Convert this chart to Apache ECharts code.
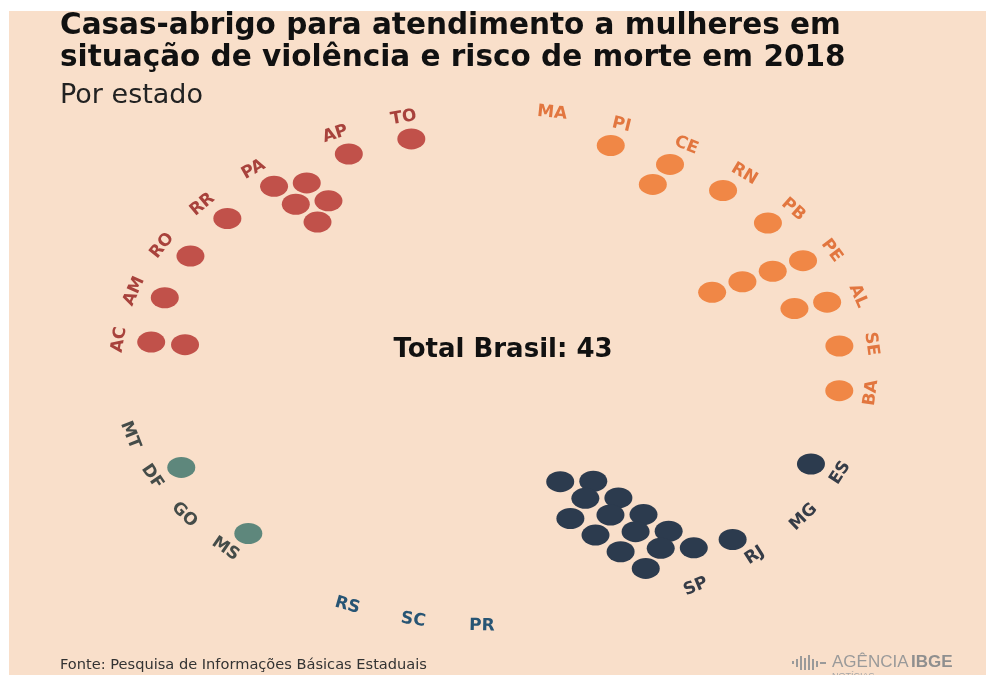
<!DOCTYPE html>
<html>
<head>
<meta charset="utf-8">
<script src="https://cdn.jsdelivr.net/npm/echarts@6/dist/echarts.min.js"></script>
<style>
html,body{margin:0;padding:0;background:#ffffff;}
#chart{width:986px;height:675px;}
</style>
</head>
<body>
<div id="chart"></div>
<script>
// ---- Data ----
const titleLines = ['Casas-abrigo para atendimento a mulheres em', 'situação de violência e risco de morte em 2018'];
const subtitle = 'Por estado';
const totalLabel = 'Total Brasil: 43';
const sourceText = 'Fonte: Pesquisa de Informações Básicas Estaduais';

const northStates = ['AC', 'AM', 'RO', 'RR', 'PA', 'AP', 'TO'];
const northValues = [2, 1, 1, 1, 5, 1, 1];
const northeastStates = ['MA', 'PI', 'CE', 'RN', 'PB', 'PE', 'AL', 'SE', 'BA'];
const northeastValues = [0, 1, 2, 1, 1, 4, 2, 1, 1];
const southeastStates = ['ES', 'MG', 'RJ', 'SP'];
const southeastValues = [1, 0, 1, 14];
const southStates = ['PR', 'SC', 'RS'];
const southValues = [0, 0, 0];
const centerWestStates = ['MS', 'GO', 'DF', 'MT'];
const centerWestValues = [1, 0, 1, 0];

// ---- Layout / style (angles in degrees, counter-clockwise from east) ----
const groups = [
  {states: northStates, values: northValues, dot: '#c1514a', text: '#a8423c', start: 173.7, step: 11.0},
  {states: northeastStates, values: northeastValues, dot: '#f08746', text: '#e2763f', start: 81.3, step: 10.85},
  {states: southeastStates, values: southeastValues, dot: '#2c3b4e', text: '#363c47', start: -24.0, step: 11.3},
  {states: southStates, values: southValues, dot: '#2f5b78', text: '#285574', start: -92.0, step: 10.5},
  {states: centerWestStates, values: centerWestValues, dot: '#5e877c', text: '#454c49', start: -135.5, step: 9.8}
];
const RX = 378, RY = 258;    // grid half sizes in px
const CX = 495, CY = 368;
const R_LABEL = 1.0, R_DOT = 0.915, DR = 0.09, DT = 0.075, LEAN = 0.022, EXTRA = 3.7;

const series = [];
groups.forEach(g => {
  const dotData = [];
  const labelData = [];
  let theta = g.start;
  g.states.forEach((st, i) => {
    const th = theta * Math.PI / 180;
    const c = Math.cos(th), s = Math.sin(th);
    let rot;
    if (s >= 0) rot = Math.atan2(-RY * c, RX * s) * 180 / Math.PI;
    else rot = Math.atan2(RY * c, -RX * s) * 180 / Math.PI;
    labelData.push({value: [R_LABEL * c, R_LABEL * s], name: st, label: {rotate: rot}});
    const n = g.values[i];
    let cols = 1;
    if (n > 0) {
      const rows = n <= 4 ? n : Math.round(Math.sqrt(2 * n));
      cols = Math.ceil(n / rows);
      const r0 = cols >= 3 ? R_DOT - DR / 2 : R_DOT;
      for (let k = 0; k < n; k++) {
        const col = Math.floor(k / rows), row = k % rows;
        const r = r0 - row * DR - (col % 2) * DR / 2;
        const t = cols >= 3 ? (col - (cols - 1) / 2) * DT + row * LEAN : col * DT;
        dotData.push([r * c + t * s, r * s - t * c]);
      }
    }
    theta -= g.step + (cols === 2 ? EXTRA : 0);
  });
  series.push({
    type: 'scatter', data: dotData, symbol: 'circle', symbolSize: [28, 21],
    itemStyle: {color: g.dot, opacity: 1}, silent: true, z: 3
  });
  series.push({
    type: 'scatter', data: labelData, symbol: 'circle', symbolSize: 1,
    itemStyle: {color: 'rgba(0,0,0,0)'}, silent: true, z: 4,
    label: {show: true, position: 'inside', formatter: '{b}', color: g.text, opacity: 1,
      textBorderWidth: 0, textBorderColor: 'transparent',
      fontFamily: '"DejaVu Sans", sans-serif', fontWeight: 'bold', fontSize: 17}
  });
});

const chart = echarts.init(document.getElementById('chart'), null, {renderer: 'canvas'});
chart.setOption({
  animation: false,
  backgroundColor: '#ffffff',
  grid: {left: CX - RX, top: CY - RY, width: 2 * RX, height: 2 * RY},
  xAxis: {type: 'value', min: -1, max: 1, show: false},
  yAxis: {type: 'value', min: -1, max: 1, show: false},
  graphic: [
    {type: 'rect', z: -10, silent: true, shape: {x: 9, y: 11, width: 977, height: 664}, style: {fill: '#f9dfca'}},
    {type: 'text', x: 60, y: 26, style: {text: titleLines[0], font: 'bold 29.5px "DejaVu Sans", sans-serif', fill: '#111', textVerticalAlign: 'middle'}},
    {type: 'text', x: 60, y: 58, style: {text: titleLines[1], font: 'bold 29.5px "DejaVu Sans", sans-serif', fill: '#111', textVerticalAlign: 'middle'}},
    {type: 'text', x: 60, y: 96, style: {text: subtitle, font: '27px "DejaVu Sans", sans-serif', fill: '#222', textVerticalAlign: 'middle'}},
    {type: 'text', x: 503, y: 350, style: {text: totalLabel, font: 'bold 26px "DejaVu Sans", sans-serif', fill: '#111', textAlign: 'center', textVerticalAlign: 'middle'}},
    {type: 'text', x: 60, y: 665, style: {text: sourceText, font: '14.6px "DejaVu Sans", sans-serif', fill: '#333', textVerticalAlign: 'middle'}},
    {type: 'text', x: 832, y: 662, style: {text: 'AGÊNCIA', font: '17px "Liberation Sans Narrow", "Liberation Sans", sans-serif', fill: '#9a9a9a', textVerticalAlign: 'middle'}},
    {type: 'text', x: 911, y: 662, style: {text: 'IBGE', font: 'bold 17px "Liberation Sans", sans-serif', fill: '#8f8f8f', textVerticalAlign: 'middle'}},
    {type: 'text', x: 832, y: 677, style: {text: 'NOTÍCIAS', font: '9px "Liberation Sans", sans-serif', fill: '#a5a5a5', textVerticalAlign: 'middle'}},
    {type: 'group', x: 792, y: 655, children: [
      {type: 'rect', shape: {x: 0, y: 6, width: 2, height: 3}, style: {fill: '#9a9a9a'}},
      {type: 'rect', shape: {x: 4, y: 4, width: 2, height: 8}, style: {fill: '#9a9a9a'}},
      {type: 'rect', shape: {x: 8, y: 1, width: 2, height: 14}, style: {fill: '#9a9a9a'}},
      {type: 'rect', shape: {x: 12, y: 3, width: 2, height: 12}, style: {fill: '#9a9a9a'}},
      {type: 'rect', shape: {x: 16, y: 0, width: 2, height: 15}, style: {fill: '#9a9a9a'}},
      {type: 'rect', shape: {x: 20, y: 4, width: 2, height: 11}, style: {fill: '#9a9a9a'}},
      {type: 'rect', shape: {x: 24, y: 6, width: 2, height: 6}, style: {fill: '#9a9a9a'}},
      {type: 'rect', shape: {x: 28, y: 7, width: 6, height: 2}, style: {fill: '#9a9a9a'}}
    ]}
  ],
  series: series
});
</script>
</body>
</html>
